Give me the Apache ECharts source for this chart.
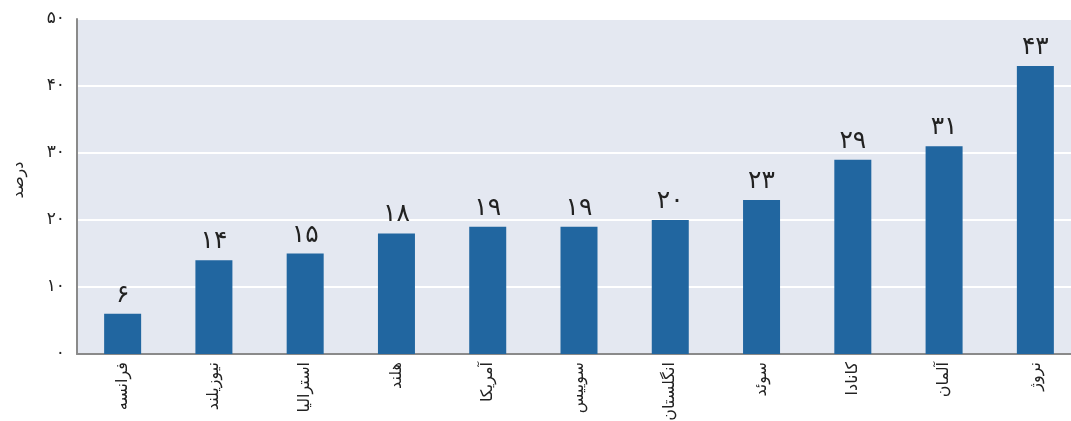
<!DOCTYPE html>
<html>
<head>
<meta charset="utf-8">
<script src="https://cdn.jsdelivr.net/npm/echarts@6/dist/echarts.min.js"></script>
<style>
  html, body { margin: 0; padding: 0; background: #ffffff; }
  #chart { width: 1071px; height: 421px; }
</style>
</head>
<body>
<div id="chart"></div>
<script>
// Countries, left to right
const countries = ['فرانسه', 'نیوزیلند', 'استرالیا', 'هلند', 'آمریکا', 'سوییس', 'انگلستان', 'سوئد', 'کانادا', 'آلمان', 'نروژ'];
// Percentage per country
const percents = [6, 14, 15, 18, 19, 19, 20, 23, 29, 31, 43];
// Value axis range
const yMin = 0;
const yMax = 50;
const yStep = 10;
const yTitle = 'درصد';

// Western digits -> Persian digits
const faDigits = ['۰', '۱', '۲', '۳', '۴', '۵', '۶', '۷', '۸', '۹'];
function toFa(n) {
  return String(n).replace(/[0-9]/g, d => faDigits[+d]);
}

const FONT = '"DejaVu Sans", sans-serif';

const chart = echarts.init(document.getElementById('chart'), null, { renderer: 'canvas' });
chart.setOption({
  animation: false,
  backgroundColor: '#ffffff',
  grid: {
    left: 77, right: -10, top: 19, bottom: 67,
    outerBoundsMode: 'none',
    containLabel: false,
    show: true, backgroundColor: '#e4e8f1', borderWidth: 0
  },
  xAxis: {
    type: 'category',
    data: countries,
    axisLine: { show: true, lineStyle: { color: '#8a8a8a', width: 2 } },
    axisTick: { show: false },
    axisLabel: {
      rotate: 90, margin: 8,
      fontFamily: FONT, fontSize: 16, color: '#222222'
    },
    z: 1
  },
  yAxis: {
    type: 'value',
    min: yMin, max: yMax, interval: yStep,
    name: yTitle,
    nameLocation: 'middle',
    nameGap: 50,
    nameRotate: 90,
    nameTextStyle: { fontFamily: FONT, fontSize: 16, color: '#222222', padding: [0, 0, 0, 13] },
    axisLine: { show: true, lineStyle: { color: '#8a8a8a', width: 2 } },
    axisTick: { show: false },
    axisLabel: {
      margin: 12,
      fontFamily: FONT, fontSize: 17, color: '#222222',
      formatter: v => toFa(v)
    },
    splitLine: { show: true, lineStyle: { color: '#ffffff', width: 2 } }
  },
  series: [{
    type: 'bar',
    data: percents,
    barWidth: 37,
    itemStyle: { color: '#2166a0' },
    z: 3,
    label: {
      show: true,
      position: 'top',
      distance: 6,
      fontFamily: FONT,
      fontSize: 25,
      color: '#222222',
      formatter: p => toFa(p.value)
    }
  }]
});
</script>
</body>
</html>
